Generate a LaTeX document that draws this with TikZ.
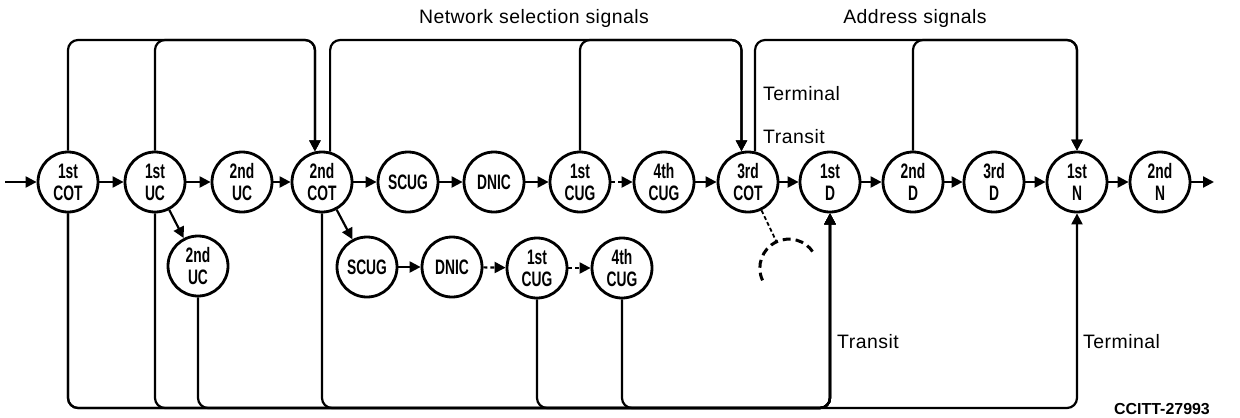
\documentclass[tikz,border=0pt]{standalone}
\usepackage{fontspec}
\setmainfont{Liberation Sans}
\newfontfamily\condfont[FakeStretch=0.66]{Liberation Sans}
\newfontfamily\spacedfont[LetterSpace=2.5]{Liberation Sans}
\usetikzlibrary{arrows.meta}
\begin{document}
\begin{tikzpicture}[x=1bp,y=-1bp,
  st/.style={circle,draw,line width=2.8bp,minimum size=60bp,inner sep=0pt,align=center,
    font=\condfont\bfseries\fontsize{21}{22}\selectfont},
  ln/.style={line width=2.2bp},
  ar/.style={ln,-{Triangle[length=11bp,width=11bp]}},
  dar/.style={ar,dash pattern=on 4bp off 3bp},
  lp/.style={ar,rounded corners=10bp},
  lbl/.style={font=\spacedfont\fontsize{19.5}{22}\selectfont,inner sep=0pt},
]
\useasboundingbox (0,0) rectangle (1240,417);
% main row
\node[st] (cot1) at (68,182) {1st\\COT};
\node[st] (uc1) at (155,182) {1st\\UC};
\node[st] (uc2) at (242,182) {2nd\\UC};
\node[st] (cot2) at (322,182) {2nd\\COT};
\node[st] (scug) at (408,182) {SCUG};
\node[st] (dnic) at (494,182) {DNIC};
\node[st] (cug1) at (580,182) {1st\\CUG};
\node[st] (cug4) at (664,182) {4th\\CUG};
\node[st] (cot3) at (748,182) {3rd\\COT};
\node[st] (d1) at (830,182) {1st\\D};
\node[st] (d2) at (913,182) {2nd\\D};
\node[st] (d3) at (994,182) {3rd\\D};
\node[st] (n1) at (1077,182) {1st\\N};
\node[st] (n2) at (1160,182) {2nd\\N};
% lower row
\node[st] (uc2b) at (198,266) {2nd\\UC};
\node[st] (scugb) at (367,267) {SCUG};
\node[st] (dnicb) at (452,267) {DNIC};
\node[st] (cug1b) at (537,268) {1st\\CUG};
\node[st] (cug4b) at (622,268) {4th\\CUG};
% ghost
\node[circle,minimum size=58bp,inner sep=0pt] (ghost) at (789,268) {};
\coordinate (in) at (5,182);
\coordinate (out) at (1214,182);
% horizontal arrows
\draw[ar] (in) -- (cot1);
\draw[ar] (cot1) -- (uc1);
\draw[ar] (uc1) -- (uc2);
\draw[ar] (uc2) -- (cot2);
\draw[ar] (cot2) -- (scug);
\draw[ar] (scug) -- (dnic);
\draw[ar] (dnic) -- (cug1);
\draw[dar] (cug1) -- (cug4);
\draw[ar] (cug4) -- (cot3);
\draw[ar] (cot3) -- (d1);
\draw[ar] (d1) -- (d2);
\draw[ar] (d2) -- (d3);
\draw[ar] (d3) -- (n1);
\draw[ar] (n1) -- (n2);
\draw[ar] (n2) -- (out);
\draw[ar] (uc1) -- (uc2b);
\draw[ar] (cot2) -- (scugb);
\draw[ar] (scugb) -- (dnicb);
\draw[dar] (dnicb) -- (cug1b);
\draw[dar] (cug1b) -- (cug4b);
% top loops
\draw[lp] (cot1.north) -- (cot1.north |- 0,40) -- (cot2.103 |- 0,40) -- (cot2.103);
\draw[lp] (uc1.north) -- (uc1.north |- 0,40) -- (cot2.103 |- 0,40) -- (cot2.103);
\draw[lp] (cot2.75) -- (cot2.75 |- 0,40) -- (cot3.102 |- 0,40) -- (cot3.102);
\draw[lp] (cug1.north) -- (cug1.north |- 0,40) -- (cot3.102 |- 0,40) -- (cot3.102);
\draw[lp] (cot3.77) -- (cot3.77 |- 0,40) -- (n1.north |- 0,40) -- (n1.north);
\draw[lp] (d2.north) -- (d2.north |- 0,40) -- (n1.north |- 0,40) -- (n1.north);
% bottom loops
\foreach \s in {cot1,uc1,uc2b,cot2,cug1b,cug4b}{
  \draw[lp] (\s.south) -- (\s.south |- 0,408) -- (d1.south |- 0,408) -- (d1.south);
}
\draw[lp] (cot1.south) -- (cot1.south |- 0,408) -- (n1.south |- 0,408) -- (n1.south);
% dashed alternative
\draw[line width=1.8bp,dash pattern=on 4bp off 2.5bp] (cot3) -- (ghost);
\draw[line width=3bp,dash pattern=on 8bp off 5bp] (ghost.205) arc[start angle=205,end angle=33,radius=29bp];
% labels
\node[lbl] (nss) at (534,18) {Network selection signals};
\node[lbl] (adr) at (915,18) {Address signals};
\node[lbl,anchor=west] (term1) at (763,94) {Terminal};
\node[lbl,anchor=west] (tran1) at (763,137) {Transit};
\node[lbl,anchor=west] (tran2) at (837,342) {Transit};
\node[lbl,anchor=west] (term2) at (1083,342) {Terminal};
\node[font=\bfseries\fontsize{16}{18}\selectfont,inner sep=0pt] (id) at (1162,409) {CCITT-27993};
\end{tikzpicture}
\end{document}
